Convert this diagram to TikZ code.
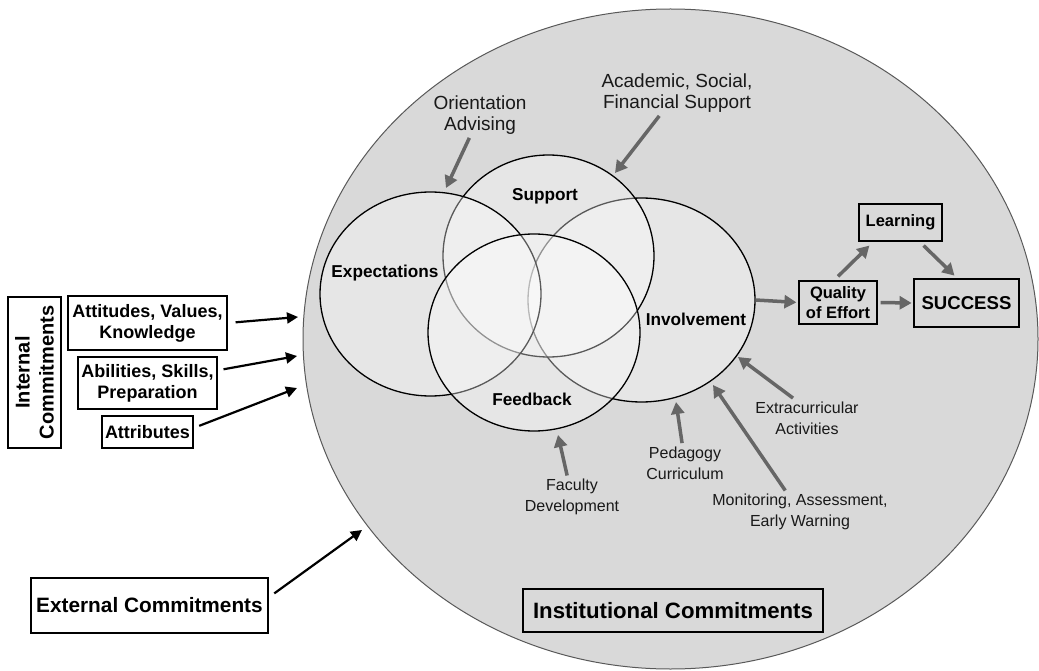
\documentclass[tikz,border=0pt]{standalone}
\usepackage{fontspec}
\setmainfont{Liberation Sans}
\usetikzlibrary{arrows.meta,shapes.geometric}
\definecolor{bggray}{HTML}{D9D9D9}
\definecolor{arrgray}{HTML}{666666}
\begin{document}
\begin{tikzpicture}[x=1pt,y=-1pt,
  circ/.style={ellipse,draw=black,line width=1.3pt,fill=white,fill opacity=0.35,inner sep=0pt},
  circlabel/.style={font=\fontsize{17.2}{20}\selectfont\bfseries},
  toplabel/.style={font=\fontsize{19}{21}\selectfont,align=center,text=black!90},
  botlabel/.style={font=\fontsize{16}{21}\selectfont,align=center,text=black!90},
  wbox/.style={draw=black,line width=1.2pt,fill=white,inner sep=0pt,align=center,font=\fontsize{18}{21}\selectfont\bfseries},
  gbox/.style={draw=black,line width=1.2pt,fill=bggray,inner sep=0pt,align=center,font=\fontsize{16.5}{20}\selectfont\bfseries},
  garrow/.style={draw=arrgray,line width=3.5pt,-{Triangle[length=12pt,width=13pt]}},
  barrow/.style={draw=black,line width=2.2pt,-{Triangle[length=11pt,width=11pt]}}
]
\useasboundingbox (0,0) rectangle (1039,671);
% institutional ellipse
\node[ellipse,draw=black!65,line width=1pt,fill=bggray,inner sep=0pt,minimum width=735pt,minimum height=660pt] (inst) at (670.5,339) {};
% venn ellipses
\node[circ,minimum width=227pt,minimum height=204pt] (inv) at (641.5,300) {};
\node[circ,minimum width=211pt,minimum height=202pt] (sup) at (548.5,256) {};
\node[circ,minimum width=221pt,minimum height=204pt] (exp) at (430.5,294) {};
\node[circ,minimum width=212pt,minimum height=197pt] (fee) at (534,332.5) {};
% labels
\node[circlabel] (expl) at (385,273) {Expectations};
\node[circlabel] (supl) at (545,196) {Support};
\node[circlabel] (invl) at (696,319) {Involvement};
\node[circlabel] (feel) at (532,399) {Feedback};
% outer labels
\node[toplabel] (ori) at (480,115) {Orientation\\Advising};
\node[toplabel] (aca) at (677,93) {Academic, Social,\\Financial Support};
\node[botlabel] (fac) at (572,497) {Faculty\\Development};
\node[botlabel] (ped) at (685,463) {Pedagogy\\Curriculum};
\node[botlabel] (mon) at (800,512) {Monitoring, Assessment,\\Early Warning};
\node[botlabel] (extra) at (807,418) {Extracurricular\\Activities};
\coordinate (oriT) at (446,188);
\coordinate (acaT) at (615,173);
\coordinate (facT) at (558,435);
\coordinate (pedT) at (676,402);
\coordinate (monT) at (713,385);
\coordinate (extraT) at (738,357);
\draw[garrow] (ori) -- (oriT);
\draw[garrow] (aca) -- (acaT);
\draw[garrow] (fac) -- (facT);
\draw[garrow] (ped) -- (pedT);
\draw[garrow] (mon) -- (monT);
\draw[garrow] ([xshift=-14pt]extra.north) -- (extraT);
% right boxes
\node[gbox,minimum width=83pt,minimum height=37pt] (learn) at (900.5,222.5) {Learning};
\node[gbox,minimum width=78pt,minimum height=43pt] (qual) at (838,302.5) {Quality\\of Effort};
\node[draw=black,line width=2.8pt,fill=bggray,inner sep=0pt,minimum width=105pt,minimum height=48pt,font=\fontsize{18.6}{21}\selectfont\bfseries] (succ) at (966.5,303) {SUCCESS};
\draw[garrow,shorten >=2pt] (inv.east) -- (qual.west);
\draw[garrow,shorten <=3pt,shorten >=1pt] (qual.east) -- (succ.west);
\draw[garrow] ([yshift=4pt]qual.north) -- ([xshift=11pt,yshift=-4pt]learn.south west);
\draw[garrow] ([xshift=-19pt,yshift=-4pt]learn.south east) -- ([xshift=-12pt,yshift=2pt]succ.north);
% left boxes
\node[draw=black,line width=1.5pt,fill=white,inner sep=0pt,rotate=90,minimum width=151pt,minimum height=53pt,align=center,font=\fontsize{20}{24}\selectfont\bfseries] (intc) at (34.5,372.5) {Internal\\Commitments};
\node[wbox,minimum width=159pt,minimum height=54pt] (att) at (147.5,323) {Attitudes, Values,\\Knowledge};
\node[wbox,minimum width=139pt,minimum height=52pt] (abi) at (147.5,383) {Abilities, Skills,\\Preparation};
\node[wbox,minimum width=91pt,minimum height=32pt] (attr) at (147.5,432) {Attributes};
\node[wbox,minimum width=237pt,minimum height=55pt,font=\fontsize{20.8}{24}\selectfont\bfseries] (ext) at (149.5,605.5) {External Commitments};
\node[draw=black,line width=2.8pt,fill=bggray,inner sep=0pt,minimum width=300pt,minimum height=43pt,font=\fontsize{22.2}{26}\selectfont\bfseries] (instl) at (673,610.5) {Institutional Commitments};
\coordinate (attT) at (298,317);
\coordinate (abiT) at (297,356);
\coordinate (attrT) at (297,388);
\coordinate (extT) at (362,530);
\draw[barrow,shorten <=8pt] (att.east) -- (attT);
\draw[barrow,shorten <=6pt] (abi) -- (abiT);
\draw[barrow,shorten <=6pt] ([yshift=4pt]attr.east) -- (attrT);
\draw[barrow,shorten <=7pt] ([yshift=8pt]ext.east) -- (extT);
\end{tikzpicture}
\end{document}
